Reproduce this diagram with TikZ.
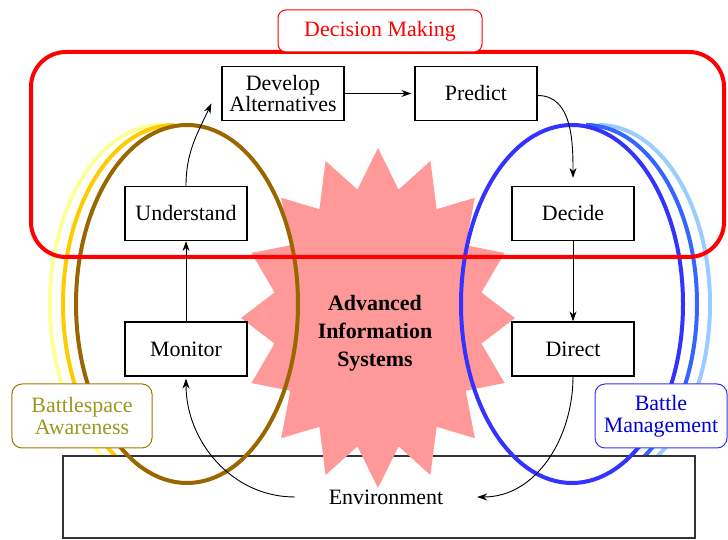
\documentclass[tikz,border=0pt]{standalone}
\usepackage{fontspec}
\setmainfont{LiberationSerif}[Extension=.ttf, UprightFont=*-Regular, BoldFont=*-Bold, ItalicFont=*-Italic, BoldItalicFont=*-BoldItalic]
\usetikzlibrary{arrows.meta, positioning}

\definecolor{dmred}{HTML}{FF0000}
\definecolor{starpink}{HTML}{FF9999}
\definecolor{bawbrown}{HTML}{996600}
\definecolor{bawgold}{HTML}{FFCC00}
\definecolor{bawpale}{HTML}{FFFF99}
\definecolor{bawtext}{HTML}{999922}
\definecolor{bmblue}{HTML}{3333FF}
\definecolor{bmmid}{HTML}{3366FF}
\definecolor{bmpale}{HTML}{99CCFF}

\begin{document}
\begin{tikzpicture}[x=1bp, y=1bp,
		font=\fontsize{22}{22}\selectfont,
		stepbox/.style={draw=black, line width=1.2bp, fill=white, minimum width=122bp, minimum height=54bp, inner sep=2bp, align=center},
		flow/.style={-{Stealth[length=10bp, width=7bp]}, line width=0.9bp},
		ring/.style={line width=4bp},
		tagbox/.style={draw, fill=white, rounded corners=10bp, line width=1bp, align=center, minimum height=64bp, inner sep=2bp}]
		\useasboundingbox (0,0) rectangle (728,540);
		
		% Shadow rings behind the two loops
		\draw[ring, bawpale] (161,415) arc[start angle=90, end angle=270, x radius=111, y radius=179];
		\draw[ring, bawgold] (174,415) arc[start angle=90, end angle=270, x radius=111, y radius=179];
		\draw[ring, bmpale] (599,415) arc[start angle=90, end angle=-90, x radius=111, y radius=179];
		\draw[ring, bmmid] (586,415) arc[start angle=90, end angle=-90, x radius=111, y radius=179];
		
		% Environment
		\draw[black!80, line width=1.5bp, fill=white] (63,2) rectangle (695,84);
		\node[minimum width=182bp, inner sep=2bp] (env) at (386,43) {Environment};
		
		% Advanced Information Systems
		\fill[starpink] plot[samples at={0,...,31}] ({378+137*(1-0.23*mod(\x,2))*cos(90+11.25*\x)}, {222+170*(1-0.23*mod(\x,2))*sin(90+11.25*\x)}) -- cycle;
		\node[align=center, font=\fontsize{22}{28}\selectfont\bfseries] (ais) at (375,207) {Advanced\\Information\\Systems};
		
		% Loops
		\draw[ring, bawbrown] (187,236) ellipse [x radius=111, y radius=179];
		\draw[ring, bmblue] (572,236) ellipse [x radius=111, y radius=179];
		
		% Decision Making
		\draw[dmred, line width=4bp, rounded corners=35bp] (31,283) rectangle (724,488);
		\node[tagbox, draw=dmred, text=dmred, minimum width=204bp, minimum height=42bp, rounded corners=8bp] (dmtag) at (380,509) {Decision Making};
		
		% Steps
		\node[stepbox] (dev) at (283,446.5) {Develop\\Alternatives};
		\node[stepbox] (pred) at (476,446.5) {Predict};
		\node[stepbox] (und) at (186,326.5) {Understand};
		\node[stepbox] (dec) at (573,326.5) {Decide};
		\node[stepbox] (mon) at (186,191) {Monitor};
		\node[stepbox] (dir) at (573,191) {Direct};
		
		% Cycle
		\draw[flow] (und.north) to[out=90, in=-115] ([xshift=-10bp, yshift=-10bp]dev.west);
		\draw[flow] (dev.east) -- ([xshift=-3bp]pred.west);
		\draw[flow] ([yshift=-2bp]pred.east) to[out=0, in=90] ([yshift=8bp]dec.north);
		\draw[flow] (dec.south) -- (dir.north);
		\draw[flow] (dir.south) to[out=-90, in=0] (env.east);
		\draw[flow] (env.west) to[out=180, in=-90] ([yshift=-2bp]mon.south);
		\draw[flow] (mon.north) -- (und.south);
		
		% Loop labels
		\node[tagbox, draw=bawbrown!90!yellow, text=bawtext, minimum width=140bp] (baw) at (82,124) {Battlespace\\Awareness};
		\node[tagbox, draw=bmblue, text=blue!85!black, minimum width=132bp] (bm) at (661,124) {Battle\\Management};
	\end{tikzpicture}
\end{document}
